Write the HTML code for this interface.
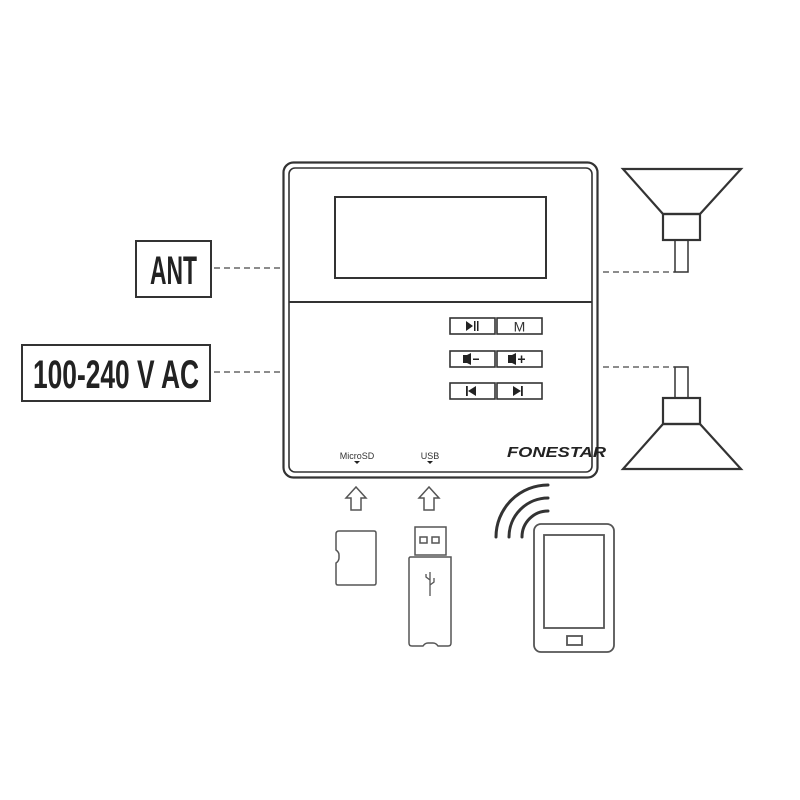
<!DOCTYPE html>
<html><head><meta charset="utf-8"><style>
html,body{margin:0;padding:0;background:#fff;}
svg{display:block;}
</style></head><body>
<svg width="800" height="800" viewBox="0 0 800 800" xmlns="http://www.w3.org/2000/svg" font-family="Liberation Sans, sans-serif">
<g fill="none" stroke="#333">
<rect x="283.5" y="162.5" width="314" height="315" rx="10" stroke-width="2.2"/>
<rect x="289" y="168" width="303" height="304" rx="6" stroke-width="1.6"/>
<line x1="289" y1="302" x2="592" y2="302" stroke-width="2"/>
<rect x="335" y="197" width="211" height="81" stroke-width="2"/>
<g stroke-width="1.6">
<rect x="450" y="318" width="45" height="16"/><rect x="497" y="318" width="45" height="16"/>
<rect x="450" y="351" width="45" height="16"/><rect x="497" y="351" width="45" height="16"/>
<rect x="450" y="383" width="45" height="16"/><rect x="497" y="383" width="45" height="16"/>
</g>
<rect x="136" y="241" width="75" height="56" stroke-width="2"/>
<rect x="22" y="345" width="188" height="56" stroke-width="2"/>
<g stroke="#666" stroke-width="1.5" stroke-dasharray="6,4">
<line x1="214" y1="268" x2="284" y2="268"/>
<line x1="214" y1="372" x2="280" y2="372"/>
<line x1="603" y1="272" x2="675" y2="272"/>
<line x1="603" y1="367" x2="675" y2="367"/>
</g>
<g stroke-width="2.2">
<polygon points="623,169 741,169 700,214 663,214"/>
<rect x="663" y="214" width="37" height="26"/>
<polygon points="663,424 700,424 741,469 623,469"/>
<rect x="663" y="398" width="37" height="26"/>
</g>
<g stroke-width="1.5">
<path d="M675,240 V272 H688 V240"/>
<path d="M675,398 V367 H688 V398"/>
</g>
<g stroke-width="1.5" stroke="#555">
<path d="M356,487 L346,498 H351 V510 H361 V498 H366 Z"/>
<path d="M429,487 L419,498 H424 V510 H434 V498 H439 Z"/>
</g>
<path d="M339,531 H374 Q376,531 376,533 V583 Q376,585 374,585 H338 Q336,585 336,583 V563 Q339,561 339,558 V555 Q339,552 336,550 V534 Q336,531 339,531 Z" stroke-width="1.5" stroke="#555"/>
<g stroke="#555" stroke-width="1.5">
<rect x="415" y="527" width="31" height="28"/>
<rect x="420" y="537" width="7" height="6"/><rect x="432" y="537" width="7" height="6"/>
<path d="M410,557 H451 V643 Q451,646 448,646 H438 Q436,643 433,643 H428 Q425,643 423,646 H412 Q409,646 409,643 V558 Z"/>
<path d="M430,572 V596 M430,580 L426,577 V574 M430,585 L434,582 V578" stroke-width="1.3"/>
</g>
<g stroke="#333" stroke-width="3" stroke-linecap="round">
<path d="M496,537 A52,52 0 0 1 548,485"/>
<path d="M509,537 A39,39 0 0 1 548,498"/>
<path d="M522,537 A26,26 0 0 1 548,511"/>
</g>
<g stroke="#555" stroke-width="1.8">
<rect x="534" y="524" width="80" height="128" rx="7"/>
<rect x="544" y="535" width="60" height="93"/>
<rect x="567" y="636" width="15" height="9"/>
</g>
</g>
<g fill="#222">
<polygon points="466,321 466,331 473,326"/><rect x="474" y="321" width="1.5" height="10"/><rect x="477" y="321" width="1.5" height="10"/>
<text x="519.5" y="331.5" font-size="14" text-anchor="middle" fill="#333">M</text>
<rect x="463" y="355" width="4" height="8"/><polygon points="467,355 471,353 471,365 467,363"/><rect x="473" y="358.5" width="6" height="1.5"/>
<rect x="508" y="355" width="4" height="8"/><polygon points="512,355 516,353 516,365 512,363"/><rect x="518" y="358.5" width="7" height="1.5"/><rect x="520.8" y="355.5" width="1.5" height="7.5"/>
<rect x="466" y="386" width="1.8" height="10"/><polygon points="476,386 476,396 468,391"/>
<polygon points="513,386 513,396 521,391"/><rect x="521" y="386" width="1.8" height="10"/>
<polygon points="354,461 360,461 357,464"/><polygon points="427,461 433,461 430,464"/>
</g>
<text x="357" y="459" font-size="9" text-anchor="middle" fill="#333">MicroSD</text>
<text x="430" y="459" font-size="9" text-anchor="middle" fill="#333">USB</text>
<text x="507" y="457" font-size="15" font-weight="bold" font-style="italic" fill="#222" textLength="99" lengthAdjust="spacingAndGlyphs">FONESTAR</text>
<text x="150" y="284" font-size="40" font-weight="bold" fill="#222" textLength="47" lengthAdjust="spacingAndGlyphs">ANT</text>
<text x="33" y="388" font-size="40" font-weight="bold" fill="#222" textLength="166" lengthAdjust="spacingAndGlyphs">100-240 V AC</text>
</svg>
</body></html>
